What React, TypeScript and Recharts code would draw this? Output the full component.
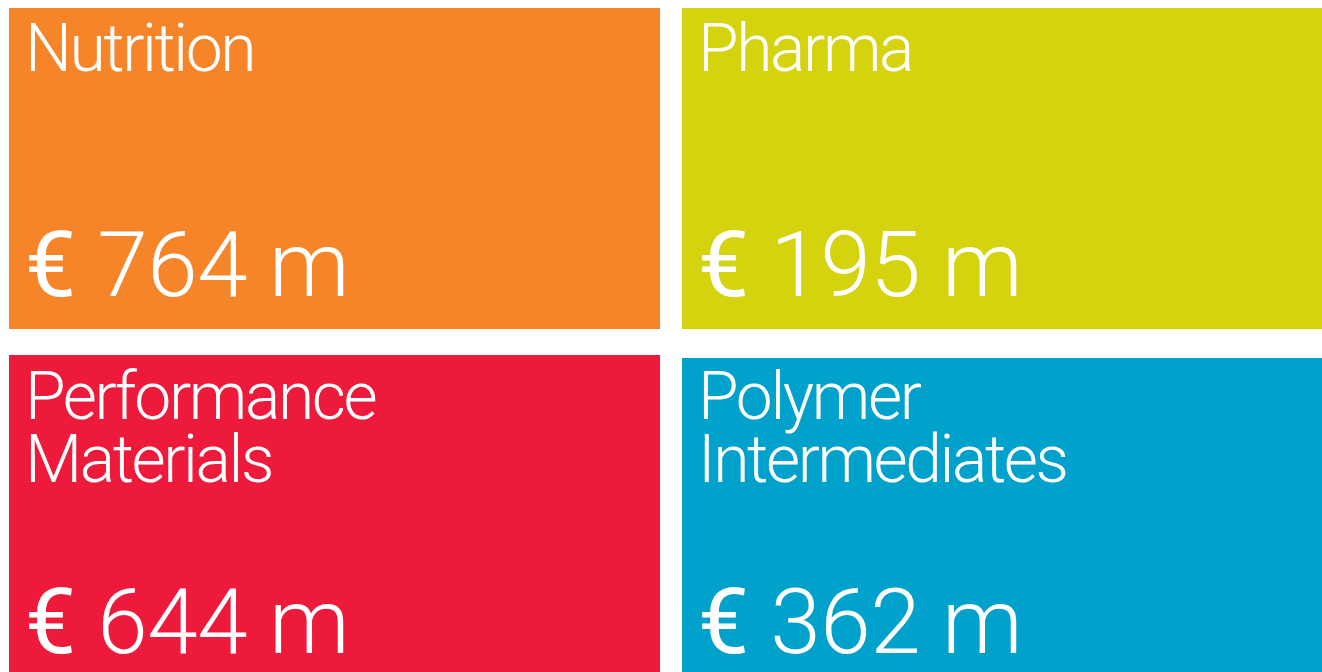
import React from "react";
import { ScatterChart, Scatter, XAxis, YAxis } from "recharts";

// ---- data ----
const segments = ["Nutrition", "Pharma", "Performance Materials", "Polymer Intermediates"];
const titleLines = [["Nutrition"], ["Pharma"], ["Performance", "Materials"], ["Polymer", "Intermediates"]];
const salesEURm = [764, 195, 644, 362];
const gridCol = [0, 1, 0, 1];
const gridRow = [0, 0, 1, 1];

// ---- styles ----
const tileColors = ["#F68428", "#D5D20E", "#EE1A3B", "#00A1CB"];
const TILE_W = 651;
const TILE_H = 321;
const TITLE_DY = [-97.5, -96.5];
const VALUE_DY = [127, 137.5];
const TOP_SHIFT = [0, 0, 0, 3];
const FONT = "Roboto, 'Helvetica Neue', Arial, sans-serif";

const data = segments.map((name, i) => ({
  name,
  lines: titleLines[i],
  value: salesEURm[i],
  col: gridCol[i],
  row: gridRow[i],
  color: tileColors[i],
  shift: TOP_SHIFT[i],
}));

const Tile = (props: any) => {
  const { cx, cy, payload } = props;
  const x = cx - TILE_W / 2;
  const y = cy - TILE_H / 2 + payload.shift;
  const tx = x + 16;
  const titleY = cy + TITLE_DY[payload.row];
  const valueY = cy + VALUE_DY[payload.row];
  return (
    <g>
      <rect x={x} y={y} width={TILE_W} height={TILE_H} fill={payload.color} />
      <text x={tx} y={titleY} fill="#fff" fontFamily={FONT} fontWeight={300} fontSize={66} letterSpacing={-2.4}>
        {payload.lines.map((l: string, i: number) => (
          <tspan key={i} x={tx} dy={i === 0 ? 0 : 63}>
            {l}
          </tspan>
        ))}
      </text>
      <text x={tx} y={valueY} fill="#fff" fontFamily={FONT} fontSize={91} letterSpacing={-0.5}>
        <tspan fontWeight={400}>€</tspan>
        <tspan fontWeight={300}>{` ${payload.value} m`}</tspan>
      </text>
    </g>
  );
};

export default function App() {
  return (
    <div style={{ position: "absolute", left: 0, top: 0, width: 1322, height: 672, overflow: "hidden", background: "#fff" }}>
      <div style={{ position: "absolute", left: -2, top: -5 }}>
        <ScatterChart width={1346} height={694} margin={{ top: 0, right: 0, bottom: 0, left: 0 }}>
          <XAxis type="number" dataKey="col" domain={[-0.5, 1.5]} hide />
          <YAxis type="number" dataKey="row" domain={[-0.5, 1.5]} reversed hide />
          <Scatter data={data} shape={Tile} isAnimationActive={false} />
        </ScatterChart>
      </div>
    </div>
  );
}
